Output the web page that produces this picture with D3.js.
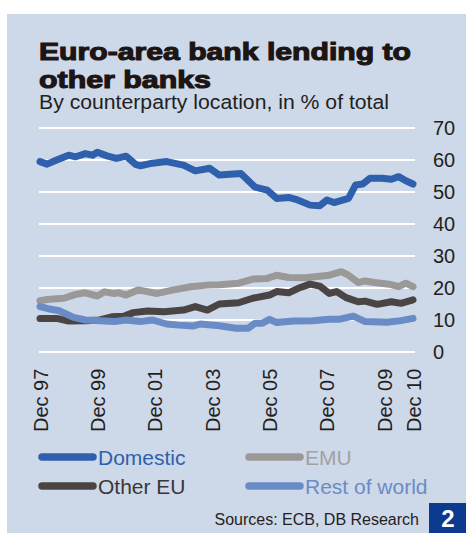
<!DOCTYPE html>
<html>
<head>
<meta charset="utf-8">
<script src="https://cdn.jsdelivr.net/npm/d3@7"></script>
<style>
  body { margin: 0; background: #fff; }
  svg { display: block; font-family: "Liberation Sans", Arial, sans-serif; }
</style>
</head>
<body>
<script>
// Chart data (months counted from Dec 1997)
var domesticMonths = [0,3,7,12,15,19,22,24,28,32,36,40,42,47,53,60,65,71,75,84,90,95,99,104,107,113,117,120,123,129,132,135,138,143,147,150,153,156];
var domesticValues = [59.5,58.7,60,61.5,61,62,61.5,62.4,61.3,60.5,61.2,58.6,58.2,59,59.5,58.4,56.6,57.4,55.3,55.8,51.5,50.6,48,48.3,47.7,45.9,45.7,47.5,46.7,48,52.2,52.5,54.3,54.3,54,54.8,53.5,52.5];

var emuMonths = [0,3,10,15,19,24,27,31,33,36,41,49,56,63,70,75,83,89,95,99,104,111,117,121,126,129,133,136,140,146,150,153,156];
var emuValues = [16,16.4,16.8,18,18.5,17.5,18.8,18.3,18.5,17.8,19.4,18.3,19.4,20.4,20.9,21,21.5,22.8,23,24,23.3,23.2,23.7,24,25.1,24,21.7,22.2,21.7,21.2,20.4,21.5,20.4];

var otherEuMonths = [0,7,12,19,25,30,35,39,45,52,60,65,70,75,83,89,96,99,104,108,113,117,121,124,128,133,136,141,147,151,156];
var otherEuValues = [10.5,10.5,9.7,9.8,10,11,11.2,12.3,12.8,12.6,13.1,14.2,13.1,15,15.4,16.8,17.8,18.9,18.5,19.9,21.2,20.6,18.3,18.9,17,15.7,15.9,14.9,15.7,15.2,16.3];

var restMonths = [0,3,8,14,19,25,31,36,42,47,53,58,64,67,75,82,87,90,93,96,99,106,114,121,125,131,136,145,151,156];
var restValues = [14.2,13.6,12.9,10.8,10,9.8,9.5,10,9.5,10,8.75,8.4,8.1,8.75,8.2,7.4,7.4,9,9,10.2,9.2,9.7,9.8,10.2,10.2,11.2,9.5,9.3,9.8,10.5];

var tickMonths = [0,24,48,72,96,120,144,156];
var tickLabels = ["Dec 97","Dec 99","Dec 01","Dec 03","Dec 05","Dec 07","Dec 09","Dec 10"];
var yTicks = [0,10,20,30,40,50,60,70];

var seriesNames = ["Domestic","EMU","Other EU","Rest of world"];
var seriesColors = ["#2f60ad","#9b9997","#4a4544","#6a8cc6"];
var textColors = ["#2f60ad","#a3a19f","#3a3636","#6a8cc6"];

var svgWidth = 466, svgHeight = 533;
var start = new Date(1997, 11, 1);
var toDate = function(m) { return d3.timeMonth.offset(start, m); };

function makeSeries(months, values) {
  return months.map(function(m, i) { return { date: toDate(m), value: values[i] }; });
}
var series = [
  makeSeries(domesticMonths, domesticValues),
  makeSeries(emuMonths, emuValues),
  makeSeries(otherEuMonths, otherEuValues),
  makeSeries(restMonths, restValues)
];

var svg = d3.select("body").append("svg")
  .attr("width", svgWidth)
  .attr("height", svgHeight);

// panel background
svg.append("rect")
  .attr("x", 7).attr("y", 14)
  .attr("width", svgWidth - 7).attr("height", svgHeight - 14)
  .attr("fill", "#cdd8e9");

// Title
var title = svg.append("g").attr("fill", "#1c1514").attr("stroke", "#1c1514").attr("stroke-width", 1.1)
  .style("font-size", "24px").style("font-weight", "bold");
title.append("text").attr("x", 39).attr("y", 60)
  .attr("textLength", 372).attr("lengthAdjust", "spacingAndGlyphs")
  .text("Euro-area bank lending to");
title.append("text").attr("x", 39).attr("y", 88)
  .attr("textLength", 172).attr("lengthAdjust", "spacingAndGlyphs")
  .text("other banks");

svg.append("text").attr("x", 39).attr("y", 109)
  .attr("fill", "#231f20")
  .style("font-size", "20px")
  .attr("textLength", 350).attr("lengthAdjust", "spacingAndGlyphs")
  .text("By counterparty location, in % of total");

// Scales
var x = d3.scaleTime().domain([toDate(0), toDate(156)]).range([40, 413]);
var y = d3.scaleLinear().domain([0, 70]).range([352, 128]);

// gridlines
svg.append("g").selectAll("line")
  .data(yTicks)
  .enter().append("line")
  .attr("x1", 39).attr("x2", 415)
  .attr("y1", function(d) { return y(d); })
  .attr("y2", function(d) { return y(d); })
  .attr("stroke", "#fff").attr("stroke-width", 2);

// y axis on the right
var rightAxis = d3.axisRight(y).tickValues(yTicks).tickSize(0).tickPadding(0);
var yAxis = svg.append("g")
  .attr("transform", "translate(433,0)")
  .call(rightAxis);
yAxis.select(".domain").remove();
yAxis.selectAll("text")
  .attr("fill", "#231f20")
  .style("font-size", "20px")
  .style("font-family", "Liberation Sans, Arial, sans-serif");

// x axis labels (rotated)
var bottomAxis = d3.axisBottom(x)
  .tickValues(tickMonths.map(toDate))
  .tickFormat(function(d, i) { return tickLabels[i]; })
  .tickSize(0);
var xAxis = svg.append("g")
  .attr("transform", "translate(0,432)")
  .call(bottomAxis);
xAxis.select(".domain").remove();
xAxis.selectAll("text")
  .attr("fill", "#231f20")
  .style("font-size", "20px")
  .style("font-family", "Liberation Sans, Arial, sans-serif")
  .attr("transform", "rotate(-90)")
  .attr("text-anchor", "start")
  .attr("x", 0).attr("y", 0).attr("dy", "0.35em");

// Lines
var line = d3.line()
  .x(function(d) { return x(d.date); })
  .y(function(d) { return y(d.value); });

svg.append("g").selectAll("path")
  .data(series)
  .enter().append("path")
  .attr("d", line)
  .attr("fill", "none")
  .attr("stroke", function(d, i) { return seriesColors[i]; })
  .attr("stroke-width", 7)
  .attr("stroke-linejoin", "round")
  .attr("stroke-linecap", "round");

// Legend
var legendPos = [[42, 457], [249, 457], [42, 486], [249, 486]];
var legend = svg.append("g").selectAll("g")
  .data(seriesNames)
  .enter().append("g")
  .attr("transform", function(d, i) { return "translate(" + legendPos[i][0] + "," + legendPos[i][1] + ")"; });
legend.append("line")
  .attr("x1", 0).attr("x2", 51)
  .attr("stroke", function(d, i) { return seriesColors[i]; })
  .attr("stroke-width", 7.5)
  .attr("stroke-linecap", "round");
legend.append("text")
  .attr("x", 56).attr("y", 8)
  .attr("fill", function(d, i) { return textColors[i]; })
  .style("font-size", "21px")
  .text(function(d) { return d; });

// Source and number box
svg.append("text")
  .attr("x", 419).attr("y", 525)
  .attr("text-anchor", "end")
  .attr("fill", "#231f20")
  .style("font-size", "16px")
  .text("Sources: ECB, DB Research");

svg.append("rect")
  .attr("x", 429).attr("y", 503)
  .attr("width", 37).attr("height", 30)
  .attr("fill", "#0b3a8f");
svg.append("text")
  .attr("x", 448).attr("y", 527)
  .attr("text-anchor", "middle")
  .attr("fill", "#fff")
  .style("font-size", "24px").style("font-weight", "bold")
  .text("2");
</script>
</body>
</html>
